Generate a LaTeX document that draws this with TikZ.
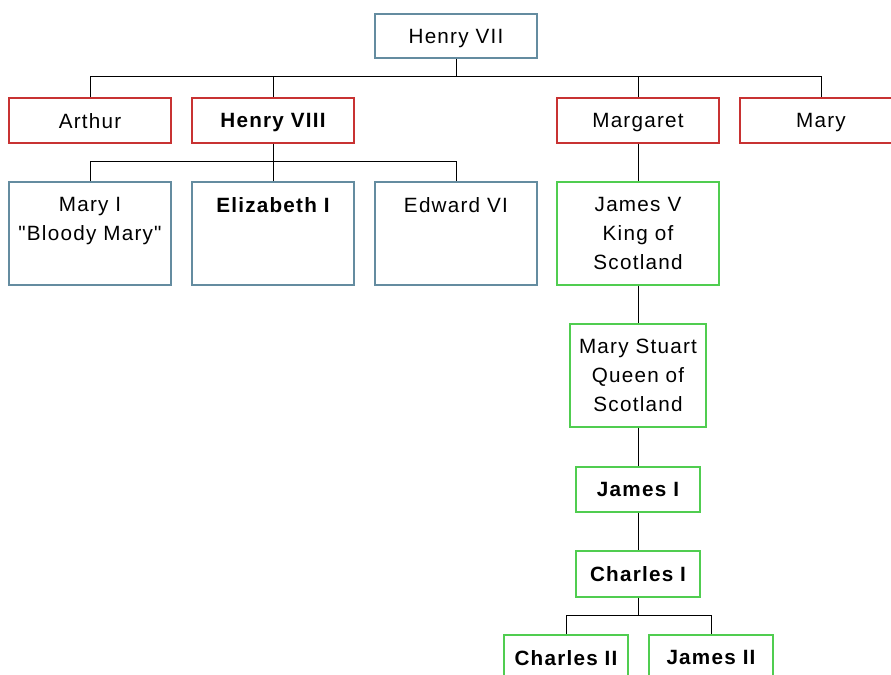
\documentclass[tikz,border=0pt]{standalone}
\usepackage{fontspec}
\newfontfamily\lblfont{Liberation Sans}[LetterSpace=6]
\definecolor{slate}{RGB}{100,140,160}
\definecolor{redb}{RGB}{200,50,50}
\definecolor{greenb}{RGB}{80,205,80}
\newcommand{\bxt}[3]{\parbox[c][\dimexpr 0.75pt*#2\relax][t]{\dimexpr 0.75pt*#1\relax}{\centering\vspace*{11.5pt}#3\par}}
\tikzset{
  person/.style={draw=#1, line width=1.2pt, fill=white, inner sep=0pt, anchor=north,
    font=\lblfont\fontsize{15.5}{21.75}\selectfont},
  link/.style={draw=black, line width=0.75pt}
}
\begin{document}
\begin{tikzpicture}[x=0.75pt,y=-0.75pt]
\useasboundingbox (0,0) rectangle (891,674);
\clip (0,0) rectangle (891,674);
\fill[white] (0,0) rectangle (891,674);
% generation 1
\node[person=slate] (henry7) at (456,13) {\bxt{162}{44}{Henry VII}};
% generation 2
\node[person=redb] (arthur) at (90,97) {\bxt{162}{45}{Arthur}};
\node[person=redb] (henry8) at (273,97) {\bxt{162}{45}{\bfseries Henry VIII}};
\node[person=redb] (margaret) at (638,97) {\bxt{162}{45}{Margaret}};
\node[person=redb] (mary) at (821,97) {\bxt{162}{45}{Mary}};
% generation 3
\node[person=slate] (mary1) at (90,181) {\bxt{162}{103}{Mary I\\"Bloody Mary"}};
\node[person=slate] (eliz) at (273,181) {\bxt{162}{103}{\bfseries Elizabeth I}};
\node[person=slate] (edward) at (456,181) {\bxt{162}{103}{Edward VI}};
\node[person=greenb] (james5) at (638,181) {\bxt{162}{103}{James V\\King of\\Scotland}};
% later
\node[person=greenb] (marys) at (638,323) {\bxt{136}{103}{Mary Stuart\\Queen of\\Scotland}};
\node[person=greenb] (james1) at (638,466) {\bxt{124}{45}{\bfseries James I}};
\node[person=greenb] (charles1) at (638,550) {\bxt{124}{46}{\bfseries Charles I}};
\node[person=greenb] (charles2) at (566,634) {\bxt{124}{45}{\bfseries Charles II}};
\node[person=greenb] (james2) at (711,634) {\bxt{124}{45}{\bfseries James II}};
% connectors
\coordinate (b1) at (456,76);
\draw[link] (henry7.south) -- (b1);
\draw[link] (arthur.north) -- (arthur.north |- b1) -- (mary.north |- b1) -- (mary.north);
\draw[link] (henry8.north) -- (henry8.north |- b1);
\draw[link] (margaret.north) -- (margaret.north |- b1);
\coordinate (b2) at (273,161);
\draw[link] (henry8.south) -- (b2);
\draw[link] (mary1.north) -- (mary1.north |- b2) -- (edward.north |- b2) -- (edward.north);
\draw[link] (eliz.north) -- (eliz.north |- b2);
\draw[link] (margaret.south) -- (james5.north);
\draw[link] (james5.south) -- (marys.north);
\draw[link] (marys.south) -- (james1.north);
\draw[link] (james1.south) -- (charles1.north);
\coordinate (b3) at (638,615);
\draw[link] (charles1.south) -- (b3);
\draw[link] (charles2.north) -- (charles2.north |- b3) -- (james2.north |- b3) -- (james2.north);
\end{tikzpicture}
\end{document}
